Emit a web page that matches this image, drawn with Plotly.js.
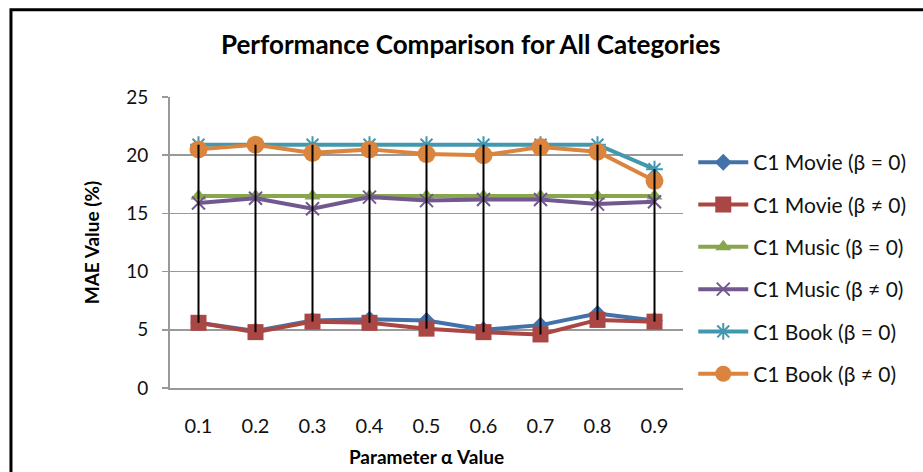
<!DOCTYPE html>
<html>
<head>
<meta charset="utf-8">
<script src="https://cdn.plot.ly/plotly-3.0.1.min.js"></script>
<style>
html,body{margin:0;padding:0;background:#fff;}
#chart{width:923px;height:472px;}
</style>
</head>
<body>
<div id="chart"></div>
<script>
var categories = ["0.1","0.2","0.3","0.4","0.5","0.6","0.7","0.8","0.9"];
var movieB0   = [5.6, 4.9, 5.8, 5.9, 5.8, 5.0, 5.4, 6.4, 5.8];
var movieBn0  = [5.6, 4.8, 5.7, 5.6, 5.1, 4.8, 4.6, 5.85, 5.7];
var musicB0   = [16.5, 16.5, 16.5, 16.5, 16.5, 16.5, 16.5, 16.5, 16.5];
var musicBn0  = [15.9, 16.3, 15.4, 16.4, 16.1, 16.2, 16.2, 15.8, 16.0];
var bookB0    = [20.9, 20.9, 20.9, 20.9, 20.9, 20.9, 20.9, 20.9, 18.8];
var bookBn0   = [20.5, 20.9, 20.2, 20.5, 20.1, 20.0, 20.7, 20.3, 17.8];
var seriesNames = ["C1 Movie (β = 0)","C1 Movie (β ≠ 0)","C1 Music (β = 0)","C1 Music (β ≠ 0)","C1 Book (β = 0)","C1 Book (β ≠ 0)"];
var yTicks = [0,5,10,15,20,25];

var FONT = "Lato, Open Sans, sans-serif";
var allSeries = [movieB0, movieBn0, musicB0, musicBn0, bookB0, bookBn0];
var colors = ["#4372AA","#AA4643","#89A54E","#71588F","#4198AF","#DB843D"];
var symbols = ["diamond","square","triangle-up","x-thin","asterisk-open","circle"];
var sizes = [13,16,14,13,14,18];

var traces = [];
allSeries.forEach(function(s,i){
  var mk = {symbol:symbols[i], size:sizes[i], color:colors[i]};
  if (symbols[i]==="x-thin" || symbols[i]==="asterisk-open") mk.line = {color:colors[i], width:2};
  traces.push({
    x: categories, y: s, type:"scatter", mode:"lines+markers",
    name: seriesNames[i], legendgroup: "g"+i,
    line:{color:colors[i], width:4},
    marker: mk
  });
});

// high-low lines
var hlx = [], hly = [];
categories.forEach(function(c,j){
  var vals = allSeries.map(function(s){return s[j];});
  hlx.push(c,c,null);
  hly.push(Math.max.apply(null,vals), Math.min.apply(null,vals), null);
});
traces.push({x:hlx, y:hly, type:"scatter", mode:"lines", line:{color:"#000", width:2}, showlegend:false, hoverinfo:"skip", connectgaps:false});

var layout = {
  width:923, height:472,
  margin:{l:170, r:240, t:97, b:84},
  paper_bgcolor:"#fff", plot_bgcolor:"#fff",
  font:{family:FONT, color:"#000"},
  title:{text:"<b>Performance Comparison for All Categories</b>", x:0.51, xanchor:"center", y:0.905, yanchor:"middle", font:{family:FONT, size:26, color:"#000"}},
  xaxis:{type:"category", range:[-0.5,8.5], showgrid:false, showline:true, linecolor:"#999", linewidth:2,
    ticks:"", tickfont:{family:FONT, size:20, color:"#111"}, ticklabelstandoff:19,
    title:{text:"<b>Parameter α Value</b>", font:{family:FONT, size:19, color:"#000"}, standoff:15}, zeroline:false},
  yaxis:{range:[0,25], tickvals:yTicks, showgrid:true, gridcolor:"#999", gridwidth:1.5, showline:true, linecolor:"#999", linewidth:2,
    ticks:"outside", ticklen:6, tickcolor:"#999", tickwidth:1.5, ticklabelstandoff:10,
    tickfont:{family:FONT, size:19, color:"#111"}, zeroline:false,
    title:{text:"<b>MAE Value (%)</b>", font:{family:FONT, size:19, color:"#000"}, standoff:22}},
  legend:{x:1.02, xanchor:"left", y:0.845, yanchor:"top", font:{family:FONT, size:21, color:"#111"}, tracegroupgap:12, itemwidth:50, bgcolor:"rgba(0,0,0,0)"},
  shapes:[{type:"rect", xref:"paper", yref:"paper", x0:-0.31, x1:1.6, y0:-0.5, y1:1.3, line:{color:"#000", width:3}, fillcolor:"rgba(0,0,0,0)", layer:"below"}]
};

Plotly.newPlot("chart", traces, layout, {displayModeBar:false, staticPlot:true});
</script>
</body>
</html>
